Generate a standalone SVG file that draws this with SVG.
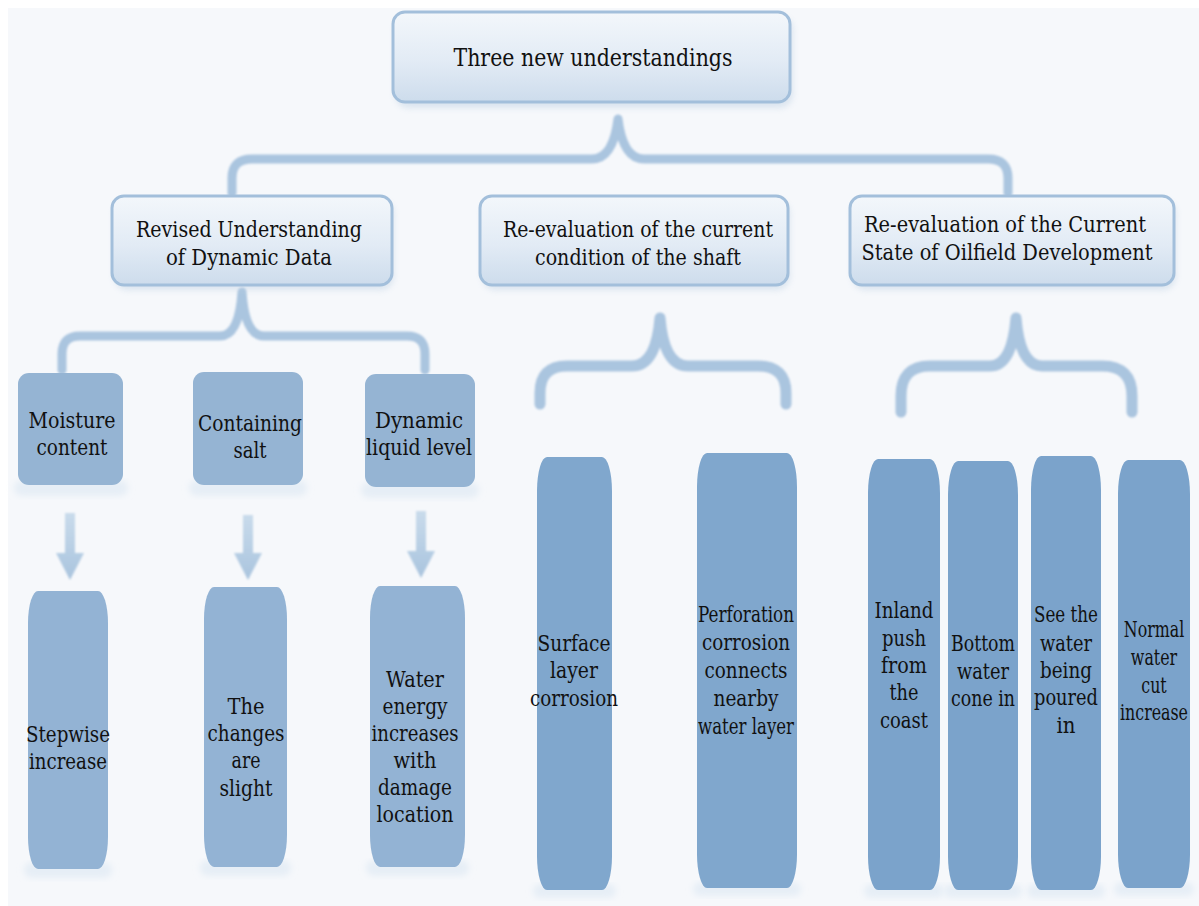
<svg xmlns="http://www.w3.org/2000/svg" width="1199" height="906" viewBox="0 0 1199 906">
<defs>
<linearGradient id="lg" x1="0" y1="0" x2="0" y2="1">
<stop offset="0" stop-color="#f3f7fb"/>
<stop offset="0.55" stop-color="#e2ebf5"/>
<stop offset="1" stop-color="#cddcec"/>
</linearGradient>
<linearGradient id="ag" x1="0" y1="0" x2="0" y2="1">
<stop offset="0" stop-color="#c9dbeb"/>
<stop offset="1" stop-color="#a9c4de"/>
</linearGradient>
<filter id="soft" x="-10%" y="-10%" width="120%" height="120%">
<feGaussianBlur stdDeviation="1.2"/>
</filter>
<filter id="sh" x="-10%" y="-10%" width="120%" height="130%">
<feGaussianBlur stdDeviation="3"/>
</filter>
</defs>
<style>
text{fill:#111;text-anchor:middle;font-family:'DejaVu Serif','Liberation Serif','Times New Roman',serif}
.t1{font-size:24px}
.t2{font-size:22px}
.t3{font-size:22px}
.lb{fill:url(#lg);stroke:#a3bfdb;stroke-width:3}
.shadow{fill:#b9cde1;opacity:0.45}
.sm{fill:#95b4d3}
.tl{fill:#93b3d4}
.tm{fill:#80a7cd}
.tr{fill:#7ba3cb}
.refl{fill:#e6eef6}
.brace{fill:none;stroke:#aac5df;stroke-linecap:round;stroke-linejoin:round}
.arrow{fill:url(#ag)}
</style>
<rect x="0" y="0" width="1199" height="906" fill="#ffffff"/>
<rect x="8" y="8" width="1191" height="898" fill="#f6f8fb"/>

<g id="connectors" filter="url(#soft)">
<path class="brace" stroke-width="9" d="M232,193 V178 Q232,159 252,159 H592 Q613,159 618,119 Q623,159 644,159 H988 Q1008,159 1008,178 V193"/>
<path class="brace" stroke-width="9" d="M62,370 V354 Q62,336 80,336 H220 Q239,336 242,292 Q245,336 264,336 H407 Q425,336 425,354 V370"/>
<path class="brace" stroke-width="11" d="M540,404 V393 Q540,366 567,366 H632 Q656,366 660,318 Q664,366 688,366 H758 Q786,366 786,393 V404"/>
<path class="brace" stroke-width="11" d="M901,412 V396 Q901,366 930,366 H990 Q1012,366 1016,318 Q1020,366 1042,366 H1102 Q1132,366 1132,396 V412"/>
<path class="arrow" d="M65,513 H75 V553 H84 L70,580 L56,553 H65 Z"/>
<path class="arrow" d="M243,515 H253 V553 H262 L248,580 L234,553 H243 Z"/>
<path class="arrow" d="M416,511 H426 V551 H435 L421,578 L407,551 H416 Z"/>
</g>

<g id="n-root">
<rect class="shadow" x="395" y="16" width="398" height="92" rx="14" filter="url(#sh)"/>
<rect class="lb" x="393" y="12" width="397" height="90" rx="12"/>
<text class="t1" x="593" y="66" textLength="279" lengthAdjust="spacingAndGlyphs">Three new understandings</text>
</g>

<g id="n-dynamic">
<rect class="shadow" x="114" y="200" width="280" height="90" rx="14" filter="url(#sh)"/>
<rect class="lb" x="112" y="196" width="280" height="89" rx="12"/>
<text class="t2" x="249" y="237" textLength="226" lengthAdjust="spacingAndGlyphs">Revised Understanding</text>
<text class="t2" x="249" y="265" textLength="166" lengthAdjust="spacingAndGlyphs">of Dynamic Data</text>
</g>

<g id="n-shaft">
<rect class="shadow" x="482" y="200" width="308" height="90" rx="14" filter="url(#sh)"/>
<rect class="lb" x="480" y="196" width="308" height="89" rx="12"/>
<text class="t2" x="638" y="237" textLength="270" lengthAdjust="spacingAndGlyphs">Re-evaluation of the current</text>
<text class="t2" x="638" y="265" textLength="206" lengthAdjust="spacingAndGlyphs">condition of the shaft</text>
</g>

<g id="n-oilfield">
<rect class="shadow" x="852" y="200" width="324" height="90" rx="14" filter="url(#sh)"/>
<rect class="lb" x="850" y="196" width="324" height="89" rx="12"/>
<text class="t2" x="1005" y="232" textLength="282" lengthAdjust="spacingAndGlyphs">Re-evaluation of the Current</text>
<text class="t2" x="1007" y="260" textLength="291" lengthAdjust="spacingAndGlyphs">State of Oilfield Development</text>
</g>

<g id="n-moisture">
<rect class="refl" x="14" y="480" width="114" height="16" rx="8" filter="url(#sh)"/>
<rect class="sm" x="18" y="373" width="105" height="112" rx="11"/>
<text class="t3" x="72" y="428" textLength="87" lengthAdjust="spacingAndGlyphs">Moisture</text>
<text class="t3" x="72" y="455" textLength="71" lengthAdjust="spacingAndGlyphs">content</text>
</g>

<g id="n-salt">
<rect class="refl" x="189" y="480" width="118" height="16" rx="8" filter="url(#sh)"/>
<rect class="sm" x="193" y="372" width="110" height="113" rx="11"/>
<text class="t3" x="250" y="431" textLength="104" lengthAdjust="spacingAndGlyphs">Containing</text>
<text class="t3" x="250" y="458" textLength="33" lengthAdjust="spacingAndGlyphs">salt</text>
</g>

<g id="n-level">
<rect class="refl" x="361" y="482" width="118" height="16" rx="8" filter="url(#sh)"/>
<rect class="sm" x="365" y="374" width="110" height="113" rx="11"/>
<text class="t3" x="419" y="428" textLength="88" lengthAdjust="spacingAndGlyphs">Dynamic</text>
<text class="t3" x="419" y="455" textLength="106" lengthAdjust="spacingAndGlyphs">liquid level</text>
</g>

<g id="n-stepwise">
<rect class="refl" x="24" y="862" width="88" height="16" rx="8" filter="url(#sh)"/>
<rect class="tl" x="28" y="591" width="80" height="278" rx="10" ry="32"/>
<text class="t3" x="68" y="742" textLength="84" lengthAdjust="spacingAndGlyphs">Stepwise</text>
<text class="t3" x="68" y="769" textLength="78" lengthAdjust="spacingAndGlyphs">increase</text>
</g>

<g id="n-slight">
<rect class="refl" x="200" y="860" width="91" height="16" rx="8" filter="url(#sh)"/>
<rect class="tl" x="204" y="587" width="83" height="280" rx="10" ry="32"/>
<text class="t3" x="246" y="714" textLength="37" lengthAdjust="spacingAndGlyphs">The</text>
<text class="t3" x="246" y="741" textLength="77" lengthAdjust="spacingAndGlyphs">changes</text>
<text class="t3" x="246" y="768" textLength="29" lengthAdjust="spacingAndGlyphs">are</text>
<text class="t3" x="246" y="796" textLength="53" lengthAdjust="spacingAndGlyphs">slight</text>
</g>

<g id="n-water-energy">
<rect class="refl" x="366" y="860" width="103" height="16" rx="8" filter="url(#sh)"/>
<rect class="tl" x="370" y="586" width="95" height="281" rx="10" ry="32"/>
<text class="t3" x="415" y="687" textLength="58" lengthAdjust="spacingAndGlyphs">Water</text>
<text class="t3" x="415" y="714" textLength="65" lengthAdjust="spacingAndGlyphs">energy</text>
<text class="t3" x="415" y="741" textLength="87" lengthAdjust="spacingAndGlyphs">increases</text>
<text class="t3" x="415" y="768" textLength="43" lengthAdjust="spacingAndGlyphs">with</text>
<text class="t3" x="415" y="795" textLength="74" lengthAdjust="spacingAndGlyphs">damage</text>
<text class="t3" x="415" y="822" textLength="77" lengthAdjust="spacingAndGlyphs">location</text>
</g>

<g id="n-surface">
<rect class="refl" x="533" y="884" width="83" height="14" rx="7" filter="url(#sh)"/>
<rect class="tm" x="537" y="457" width="75" height="433" rx="10" ry="34"/>
<text class="t3" x="574" y="651" textLength="73" lengthAdjust="spacingAndGlyphs">Surface</text>
<text class="t3" x="574" y="678" textLength="48" lengthAdjust="spacingAndGlyphs">layer</text>
<text class="t3" x="574" y="706" textLength="88" lengthAdjust="spacingAndGlyphs">corrosion</text>
</g>

<g id="n-perforation">
<rect class="refl" x="693" y="882" width="108" height="14" rx="7" filter="url(#sh)"/>
<rect class="tm" x="697" y="453" width="100" height="435" rx="10" ry="34"/>
<text class="t3" x="746" y="622" textLength="96" lengthAdjust="spacingAndGlyphs">Perforation</text>
<text class="t3" x="746" y="650" textLength="88" lengthAdjust="spacingAndGlyphs">corrosion</text>
<text class="t3" x="746" y="678" textLength="83" lengthAdjust="spacingAndGlyphs">connects</text>
<text class="t3" x="746" y="706" textLength="65" lengthAdjust="spacingAndGlyphs">nearby</text>
<text class="t3" x="746" y="734" textLength="96" lengthAdjust="spacingAndGlyphs">water layer</text>
</g>

<g id="n-inland">
<rect class="refl" x="864" y="884" width="80" height="14" rx="7" filter="url(#sh)"/>
<rect class="tr" x="868" y="459" width="72" height="431" rx="10" ry="34"/>
<text class="t3" x="904" y="618" textLength="59" lengthAdjust="spacingAndGlyphs">Inland</text>
<text class="t3" x="904" y="646" textLength="44" lengthAdjust="spacingAndGlyphs">push</text>
<text class="t3" x="904" y="673" textLength="46" lengthAdjust="spacingAndGlyphs">from</text>
<text class="t3" x="904" y="700" textLength="29" lengthAdjust="spacingAndGlyphs">the</text>
<text class="t3" x="904" y="728" textLength="48" lengthAdjust="spacingAndGlyphs">coast</text>
</g>

<g id="n-bottom">
<rect class="refl" x="944" y="884" width="78" height="14" rx="7" filter="url(#sh)"/>
<rect class="tr" x="948" y="461" width="70" height="429" rx="10" ry="34"/>
<text class="t3" x="983" y="651" textLength="64" lengthAdjust="spacingAndGlyphs">Bottom</text>
<text class="t3" x="983" y="679" textLength="52" lengthAdjust="spacingAndGlyphs">water</text>
<text class="t3" x="983" y="706" textLength="64" lengthAdjust="spacingAndGlyphs">cone in</text>
</g>

<g id="n-poured">
<rect class="refl" x="1027" y="884" width="78" height="14" rx="7" filter="url(#sh)"/>
<rect class="tr" x="1031" y="456" width="70" height="434" rx="10" ry="34"/>
<text class="t3" x="1066" y="622" textLength="64" lengthAdjust="spacingAndGlyphs">See the</text>
<text class="t3" x="1066" y="651" textLength="52" lengthAdjust="spacingAndGlyphs">water</text>
<text class="t3" x="1066" y="678" textLength="52" lengthAdjust="spacingAndGlyphs">being</text>
<text class="t3" x="1066" y="705" textLength="64" lengthAdjust="spacingAndGlyphs">poured</text>
<text class="t3" x="1066" y="733" textLength="19" lengthAdjust="spacingAndGlyphs">in</text>
</g>

<g id="n-normal">
<rect class="refl" x="1114" y="882" width="80" height="14" rx="7" filter="url(#sh)"/>
<rect class="tr" x="1118" y="460" width="72" height="428" rx="10" ry="34"/>
<g transform="translate(1154,0) scale(0.72,1)">
<text class="t3" x="0" y="637">Normal</text>
<text class="t3" x="0" y="665">water</text>
<text class="t3" x="0" y="693">cut</text>
<text class="t3" x="0" y="720">increase</text>
</g>
</g>
</svg>
